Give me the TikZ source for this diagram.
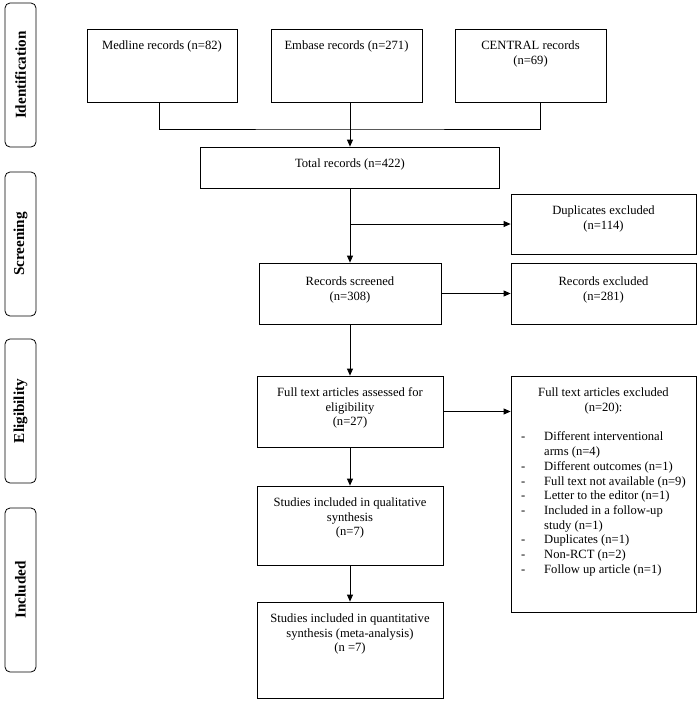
\documentclass[tikz,border=0pt]{standalone}
\usepackage{fontspec}
\setmainfont{Liberation Serif}
\usetikzlibrary{arrows.meta}
\begin{document}
\begin{tikzpicture}[x=1pt,y=-1pt,
  boxnode/.style={draw=black, line width=0.8pt, rectangle, inner sep=0pt},
  txt/.style={anchor=north, inner sep=0pt, align=center, font=\fontsize{12.6}{14.7}\selectfont},
  listtxt/.style={anchor=north west, inner sep=0pt, align=left, font=\fontsize{12.6}{14.7}\selectfont},
  phase/.style={draw=black, line width=0.8pt, rounded corners=5pt, minimum width=31pt, inner sep=0pt},
  phasetxt/.style={rotate=90, font=\bfseries\fontsize{15.2}{18}\selectfont, inner sep=0pt},
  conn/.style={line width=0.8pt},
  arr/.style={conn, -{Triangle[length=7pt,width=6pt]}}
]
\useasboundingbox (0,0) rectangle (700,702);

% phase labels
\node[phase, minimum height=144pt] (lid) at (20.5,75) {};
\node[phasetxt] (lidt) at (lid.center) {Identification};
\node[phase, minimum height=144pt] (lscr) at (20.5,244) {};
\node[phasetxt] (lscrt) at (lscr.center) {Screening};
\node[phase, minimum height=144pt] (lelig) at (20.5,411) {};
\node[phasetxt] (leligt) at (lelig.center) {Eligibility};
\node[phase, minimum height=164pt] (lincl) at (20.5,590) {};
\node[phasetxt] (linclt) at (lincl.center) {Included};

% boxes
\node[boxnode, minimum width=150pt, minimum height=73pt] (medline) at (162,65.5) {};
\node[boxnode, minimum width=151pt, minimum height=73pt] (embase) at (346.5,65.5) {};
\node[boxnode, minimum width=151pt, minimum height=73pt] (central) at (530.5,65.5) {};
\node[boxnode, minimum width=299pt, minimum height=41pt] (total) at (350,167.5) {};
\node[boxnode, minimum width=182pt, minimum height=61pt] (screened) at (350,293.5) {};
\node[boxnode, minimum width=185pt, minimum height=60pt] (dup) at (603.5,224) {};
\node[boxnode, minimum width=185pt, minimum height=61pt] (recexcl) at (603.5,293.5) {};
\node[boxnode, minimum width=186pt, minimum height=71pt] (fulltext) at (350,411.5) {};
\node[boxnode, minimum width=185pt, minimum height=236pt] (ftexcl) at (603.5,494) {};
\node[boxnode, minimum width=186pt, minimum height=79pt] (qual) at (350,525.5) {};
\node[boxnode, minimum width=186pt, minimum height=96pt] (quant) at (350,650) {};

% texts
\node[txt] (medlinet) at ([yshift=-10.5pt]medline.north) {\strut Medline records (n=82)};
\node[txt] (embaset) at ([yshift=-10.5pt]embase.north) {\strut Embase records (n=271)};
\node[txt] (centralt) at ([yshift=-10.5pt]central.north) {\strut CENTRAL records\\(n=69)};
\node[txt] (totalt) at ([yshift=-10.5pt]total.north) {\strut Total records (n=422)};
\node[txt] (screenedt) at ([yshift=-12.3pt]screened.north) {\strut Records screened\\(n=308)};
\node[txt] (dupt) at ([yshift=-10.5pt]dup.north) {\strut Duplicates excluded\\(n=114)};
\node[txt] (recexclt) at ([yshift=-12.3pt]recexcl.north) {\strut Records excluded\\(n=281)};
\node[txt] (fulltextt) at ([yshift=-10.5pt]fulltext.north) {\strut Full text articles assessed for\\eligibility\\(n=27)};
\node[txt] (ftexclt) at ([yshift=-10.5pt]ftexcl.north) {\strut Full text articles excluded\\(n=20):};
\node[listtxt] (ftlist) at (521,430.5) {\strut\makebox[23pt][l]{-}Different interventional\\
\hspace*{23pt}arms (n=4)\\
\makebox[23pt][l]{-}Different outcomes (n=1)\\
\makebox[23pt][l]{-}Full text not available (n=9)\\
\makebox[23pt][l]{-}Letter to the editor (n=1)\\
\makebox[23pt][l]{-}Included in a follow-up\\
\hspace*{23pt}study (n=1)\\
\makebox[23pt][l]{-}Duplicates (n=1)\\
\makebox[23pt][l]{-}Non-RCT (n=2)\\
\makebox[23pt][l]{-}Follow up article (n=1)};
\node[txt] (qualt) at ([yshift=-10.5pt]qual.north) {\strut Studies included in qualitative\\synthesis\\(n=7)};
\node[txt] (quantt) at ([yshift=-10.5pt]quant.north) {\strut Studies included in quantitative\\synthesis (meta-analysis)\\(n =7)};

% connectors
\coordinate (join) at (350,129);
\draw[conn] ([xshift=-3pt]medline.south) |- (join) -| ([xshift=10pt]central.south);
\draw[arr] ([xshift=3.5pt]embase.south) -- (total.north);
\draw[arr] (total.south) -- (screened.north);
\coordinate (dupbranch) at (total.south |- dup.west);
\draw[arr] (dupbranch) -- (dup.west);
\draw[arr] (screened.east) -- (recexcl.west);
\draw[arr] (screened.south) -- (fulltext.north);
\draw[arr] (fulltext.east) -- (fulltext.east -| ftexcl.west);
\draw[arr] (fulltext.south) -- (qual.north);
\draw[arr] (qual.south) -- (quant.north);
\end{tikzpicture}
\end{document}
